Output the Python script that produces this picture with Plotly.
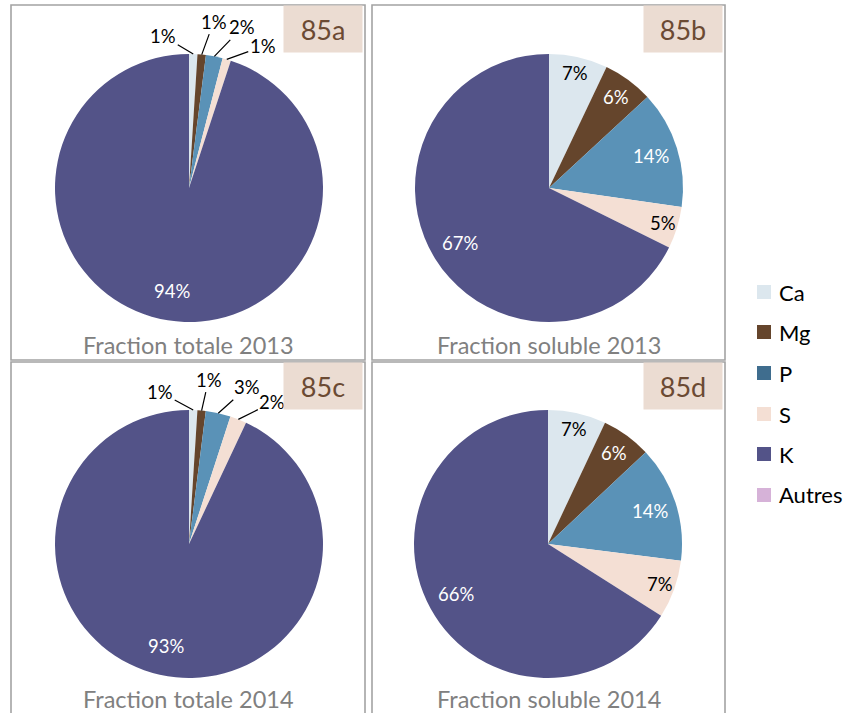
import math
import plotly.graph_objects as go

W, H = 846, 713

# Element shares (%) per fraction and year
elements = ["Ca", "Mg", "P", "S", "K", "Autres"]
totale_2013 = [1, 1, 2, 1, 94, 0]
soluble_2013 = [7, 6, 14, 5, 67, 0]
totale_2014 = [1, 1, 3, 2, 93, 0]
soluble_2014 = [7, 6, 14, 7, 66, 0]

panel_titles = ["Fraction totale 2013", "Fraction soluble 2013",
                "Fraction totale 2014", "Fraction soluble 2014"]
panel_tags = ["85a", "85b", "85c", "85d"]

slice_colors = ["#DCE7EE", "#65452C", "#5A92B7", "#F4DFD4", "#535388", "#D6B2D8"]
legend_colors = ["#DCE7EE", "#65452C", "#3F6D8E", "#F4DFD4", "#535388", "#D6B2D8"]
inside_text_colors = ["black", "white", "white", "black", "white", "black"]

FONT = "Lato"
R = 134  # pie radius in px
LABEL_SIZE = 18.5

# panel layout: frame box (px), pie centre (px), label style, title offset
panels = [
    dict(values=totale_2013, box=(11, 5, 365, 360), c=(189, 188), mode="outside",
         offsets=[(-30, -18), (12, -33), (28, -29), (36, -13)], title_dy=340),
    dict(values=soluble_2013, box=(372, 5, 725, 360), c=(549, 188), mode="inside",
         frac=[0.88, 0.84, 0.80, 0.89, 0.78], title_dy=340),
    dict(values=totale_2014, box=(11, 362, 365, 720), c=(189, 544), mode="outside",
         offsets=[(-33, -18), (7, -31), (29, -26), (34, -17)], title_dy=337),
    dict(values=soluble_2014, box=(372, 362, 725, 720), c=(548, 544), mode="inside",
         frac=[0.88, 0.84, 0.80, 0.89, 0.78], title_dy=337),
]


def px(x):
    return x / W


def py(y):
    return 1 - y / H


fig = go.Figure()
shapes = []
annotations = []

for i, p in enumerate(panels):
    cx, cy = p["c"]
    x0, y0, x1, y1 = p["box"]
    shapes.append(dict(type="rect", xref="paper", yref="paper",
                       x0=px(x0), x1=px(x1), y0=py(y1), y1=py(y0),
                       line=dict(color="#A3A3A3", width=1.6), fillcolor="rgba(0,0,0,0)",
                       layer="below"))
    fig.add_trace(go.Pie(
        labels=elements, values=p["values"], sort=False, direction="clockwise",
        rotation=0, marker=dict(colors=slice_colors, line=dict(width=0)),
        textinfo="none", hoverinfo="label+value", showlegend=False,
        domain=dict(x=[px(cx - R), px(cx + R)], y=[py(cy + R), py(cy - R)]),
    ))

    vals = p["values"]
    total = sum(vals)
    cum = 0
    for k, v in enumerate(vals):
        if v == 0:
            cum += v
            continue
        mid = (cum + v / 2) / total * 2 * math.pi
        cum += v
        if p["mode"] == "inside":
            f = p["frac"][k]
            tx = cx + f * R * math.sin(mid)
            ty = cy - f * R * math.cos(mid)
            annotations.append(dict(
                x=px(tx), y=py(ty), xref="paper", yref="paper", showarrow=False,
                text=f"{v}%", font=dict(family=FONT, size=LABEL_SIZE, color=inside_text_colors[k]),
                xanchor="center", yanchor="middle"))
        else:
            if k >= len(p["offsets"]):
                # the dominant slice keeps its label inside
                tx = cx + 0.78 * R * math.sin(mid)
                ty = cy - 0.78 * R * math.cos(mid)
                annotations.append(dict(
                    x=px(tx), y=py(ty), xref="paper", yref="paper", showarrow=False,
                    text=f"{v}%", font=dict(family=FONT, size=LABEL_SIZE, color="white"),
                    xanchor="center", yanchor="middle"))
                continue
            ex = cx + R * math.sin(mid)
            ey = cy - R * math.cos(mid)
            ax, ay = p["offsets"][k]
            annotations.append(dict(
                x=px(ex), y=py(ey), xref="paper", yref="paper", showarrow=True,
                ax=ax, ay=ay, arrowhead=0, arrowwidth=1.2, arrowcolor="black",
                standoff=0, startstandoff=0,
                text=f"{v}%", font=dict(family=FONT, size=LABEL_SIZE, color="black")))

    # panel title
    annotations.append(dict(
        x=px((x0 + x1) / 2), y=py(y0 + p["title_dy"]), xref="paper", yref="paper",
        showarrow=False, text=panel_titles[i],
        font=dict(family=FONT, size=23.5, color="#808080"),
        xanchor="center", yanchor="middle"))

# tag boxes drawn last so they sit on top of any nearby label
for i, p in enumerate(panels):
    x0, y0, x1, y1 = p["box"]
    annotations.append(dict(
        x=px(x1 - 42), y=py(y0 + 24), xref="paper", yref="paper", showarrow=False,
        text=panel_tags[i], font=dict(family=FONT, size=27, color="#6B4A33"),
        bgcolor="#EBDCD2", width=78, height=46, borderpad=0,
        xanchor="center", yanchor="middle"))

# legend
legend_y = [292, 332, 373, 414, 454, 495]
for name, col, ly in zip(elements, legend_colors, legend_y):
    shapes.append(dict(type="rect", xref="paper", yref="paper",
                       x0=px(757), x1=px(771), y0=py(ly + 7), y1=py(ly - 7),
                       fillcolor=col, line=dict(width=0)))
    annotations.append(dict(
        x=px(777), y=py(ly), xref="paper", yref="paper", showarrow=False,
        text=name, font=dict(family=FONT, size=22, color="black"),
        xanchor="left", yanchor="middle"))

fig.update_layout(
    width=W, height=H, margin=dict(l=0, r=0, t=0, b=0),
    paper_bgcolor="white", plot_bgcolor="white",
    shapes=shapes, annotations=annotations,
)

fig.write_html("out.html")
